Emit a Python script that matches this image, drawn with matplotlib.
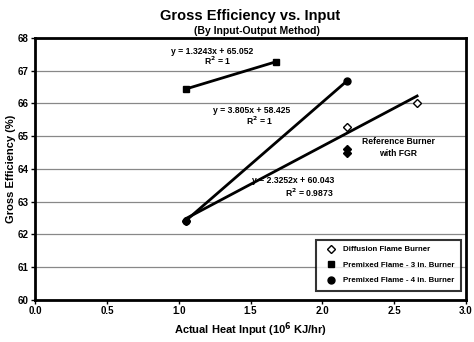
import matplotlib
matplotlib.use("Agg")
import matplotlib.pyplot as plt
from matplotlib.lines import Line2D

plt.rcParams['font.family'] = ['Liberation Sans', 'DejaVu Sans']
plt.rcParams['font.weight'] = 'bold'

# Data
diff_x = [1.05, 2.17, 2.66]
diff_y = [62.42, 65.28, 66.02]
pm3_x = [1.05, 1.68]
pm3_y = [66.44, 67.28]
pm4_x = [1.05, 2.17]
pm4_y = [62.42, 66.68]
ref_x = [2.17, 2.17]
ref_y = [64.48, 64.62]

fits = {
    'pm3': (1.3243, 65.052),
    'pm4': (3.805, 58.425),
    'diff': (2.3252, 60.043),
}

fig = plt.figure(figsize=(4.74, 3.42), dpi=100)
ax = fig.add_axes([0.074, 0.123, 0.909, 0.766])

ax.set_xlim(0, 3)
ax.set_ylim(60, 68)
ax.set_yticks(range(60, 69))
ax.set_xticks([0, 0.5, 1.0, 1.5, 2.0, 2.5, 3.0])
ax.set_xticklabels(['0.0', '0.5', '1.0', '1.5', '2.0', '2.5', '3.0'])
ax.yaxis.grid(True, color='#888888', linewidth=0.9)
ax.set_axisbelow(True)
for s in ax.spines.values():
    s.set_linewidth(2.0)
ax.tick_params(labelsize=7, length=3, width=1, pad=1.5)

# Trend lines
def trend(xs, key):
    m, b = fits[key]
    x0, x1 = min(xs), max(xs)
    ax.plot([x0, x1], [m * x0 + b, m * x1 + b], color='black', lw=2, zorder=3)

trend(pm3_x, 'pm3')
trend(pm4_x, 'pm4')
trend(diff_x, 'diff')

ax.plot(diff_x, diff_y, linestyle='none', marker='D', ms=4, mfc='white', mec='black', mew=1, zorder=4)
ax.plot(pm3_x, pm3_y, linestyle='none', marker='s', ms=5, color='black', zorder=4)
ax.plot(pm4_x, pm4_y, linestyle='none', marker='o', ms=5, color='black', zorder=4)
ax.plot(ref_x, ref_y, linestyle='none', marker='D', ms=4, color='black', zorder=4)

fs = 6.2
ax.text(1.23, 67.60, 'y = 1.3243x + 65.052', fontsize=fs, ha='center', va='center')
ax.text(1.27, 67.30, 'R$^2$ = 1', fontsize=fs, ha='center', va='center')
ax.text(1.51, 65.80, 'y = 3.805x + 58.425', fontsize=fs, ha='center', va='center')
ax.text(1.56, 65.47, 'R$^2$ = 1', fontsize=fs, ha='center', va='center')
ax.text(2.53, 64.65, 'Reference Burner\nwith FGR', fontsize=fs, ha='center', va='center', linespacing=1.4)
ax.text(1.80, 63.66, 'y = 2.3252x + 60.043', fontsize=fs, ha='center', va='center')
ax.text(1.91, 63.27, 'R$^2$ = 0.9873', fontsize=fs, ha='center', va='center')

handles = [
    Line2D([], [], linestyle='none', marker='D', ms=4, mfc='white', mec='black', mew=1),
    Line2D([], [], linestyle='none', marker='s', ms=5, color='black'),
    Line2D([], [], linestyle='none', marker='o', ms=5, color='black'),
]
labels = ['Diffusion Flame Burner', 'Premixed Flame - 3 in. Burner', 'Premixed Flame - 4 in. Burner']
leg = ax.legend(handles, labels, loc='lower right', fontsize=5.7, frameon=True, fancybox=False,
                edgecolor='black', handletextpad=0.6, borderpad=0.8, labelspacing=1.0,
                bbox_to_anchor=(0.998, 0.02))
leg.get_frame().set_linewidth(1.5)

ax.set_xlabel('Actual Heat Input (10$^6$ KJ/hr)', fontsize=8, fontweight='bold', labelpad=3)
ax.set_ylabel('Gross Efficiency (%)', fontsize=8, fontweight='bold', labelpad=1)

fig.text(0.528, 0.952, 'Gross Efficiency vs. Input', fontsize=10.5, fontweight='bold', ha='center', va='center')
fig.text(0.542, 0.910, '(By Input-Output Method)', fontsize=7.5, fontweight='bold', ha='center', va='center')

fig.savefig('out.png', dpi=100)
